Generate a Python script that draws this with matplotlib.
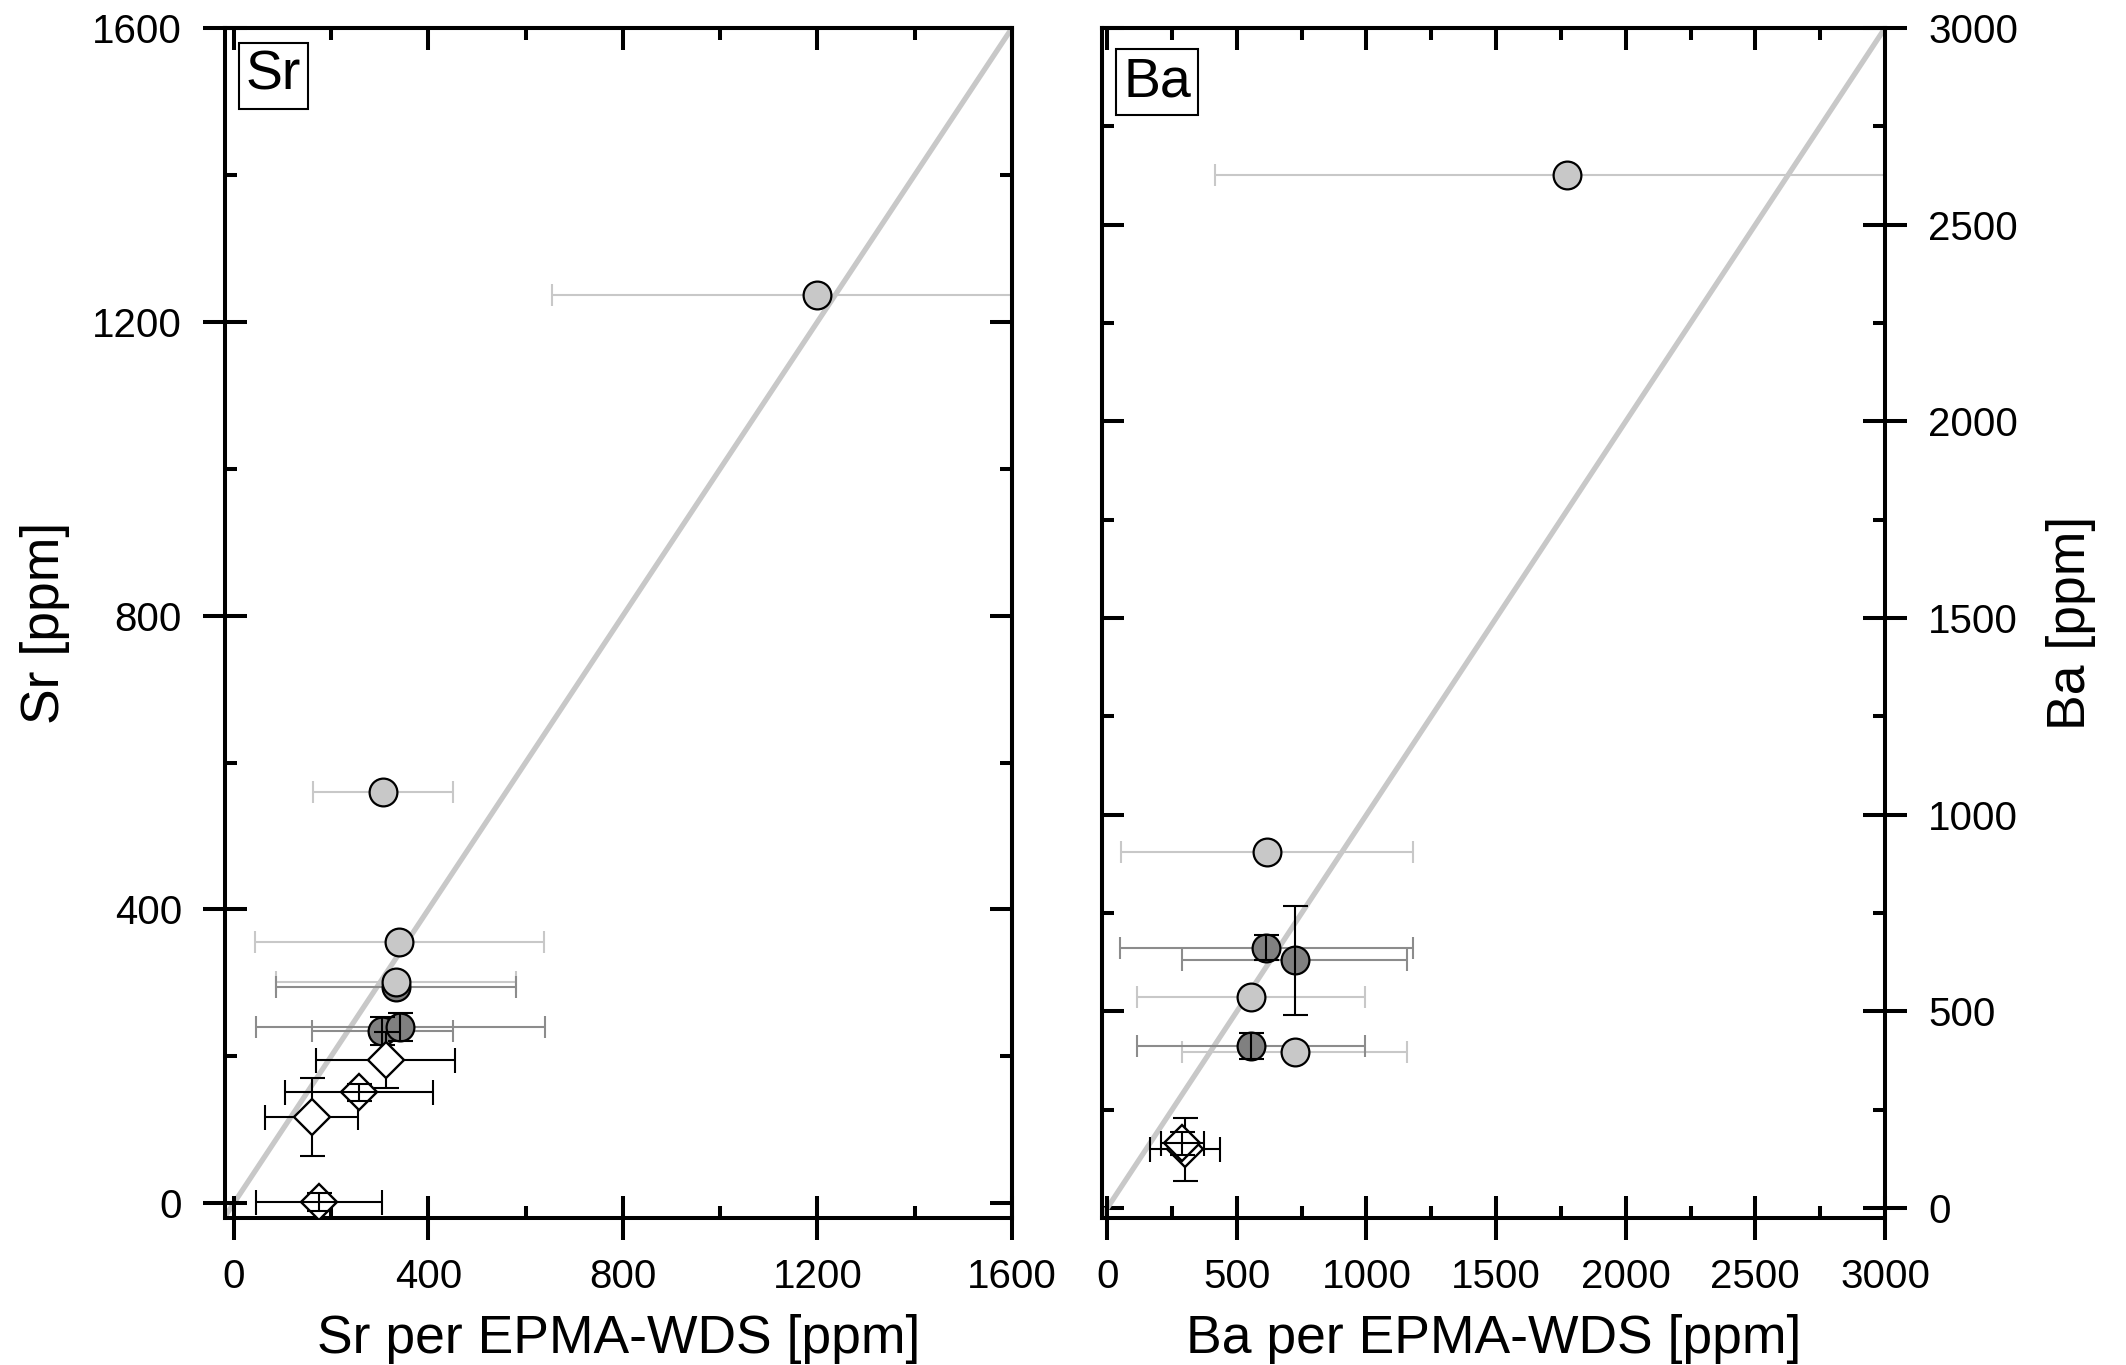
import matplotlib
matplotlib.use('Agg')
import matplotlib.pyplot as plt
from matplotlib.ticker import MultipleLocator

plt.rcParams['font.family'] = ['Liberation Sans', 'DejaVu Sans']

# ---------------- Sr panel data ----------------
sr_light_x = [1200, 306, 340, 334]
sr_light_y = [1237, 560, 356, 301]
sr_light_xerr = [546, 144, 297, 247]

sr_dark_x = [334, 305, 342]
sr_dark_y = [295, 234, 240]
sr_dark_xerr = [247, 145, 297]
sr_dark_yerr = [0, 19, 19]

# diamonds whose error bars lie behind the marker
sr_dia_x = [312, 160]
sr_dia_y = [195, 118]
sr_dia_xerr = [143, 95]
sr_dia_yerr = [38, 53]
# diamonds whose error bars are drawn over the marker
sr_dia2_x = [257, 175]
sr_dia2_y = [151, 2]
sr_dia2_xerr = [152, 130]
sr_dia2_yerr = [12, 12]

# ---------------- Ba panel data ----------------
ba_light_x = [1772, 616, 554, 723]
ba_light_y = [2627, 906, 537, 396]
ba_light_xerr = [1357, 564, 440, 433]

ba_dark_x = [614, 723, 554]
ba_dark_y = [662, 630, 413]
ba_dark_xerr = [564, 433, 440]
ba_dark_yerr = [32, 139, 33]

ba_dia_x = [300]
ba_dia_y = [150]
ba_dia_xerr = [135]
ba_dia_yerr = [80]
ba_dia2_x = [290]
ba_dia2_y = [165]
ba_dia2_xerr = [83]
ba_dia2_yerr = [29]

LIGHT = '#c8c8c8'
DARK = '#808080'
DARKBAR = '#8c8c8c'
SPW = 2.9
TICKFS = 29
LABFS = 38.5

fig = plt.figure(figsize=(21.26, 13.65), dpi=100)
W, H = 2126, 1365
axL = fig.add_axes([225 / W, 147 / H, 787 / W, 1190 / H])
axR = fig.add_axes([1102 / W, 147 / H, 783 / W, 1190 / H])


def draw(ax, lx, ly, lxe, dx, dy, dxe, dye, ax_, ay_, axe_, aye_, bx, by, bxe, bye):
    ax.axline((0, 0), slope=1, color=LIGHT, lw=3.8, zorder=1)
    # light circles
    ax.errorbar(lx, ly, xerr=lxe, fmt='none', ecolor=LIGHT, elinewidth=1.5,
                capsize=8, capthick=1.5, zorder=2)
    # dark circles
    ax.errorbar(dx, dy, xerr=dxe, fmt='none', ecolor=DARKBAR, elinewidth=1.5,
                capsize=8, capthick=1.5, zorder=2)
    ax.plot(dx, dy, 'o', ms=20, mfc=DARK, mec='k', mew=1.6, ls='none', zorder=3)
    ax.errorbar(dx, dy, yerr=dye, fmt='none', ecolor='k', elinewidth=1.5,
                capsize=9, capthick=1.5, zorder=4)
    ax.plot(lx, ly, 'o', ms=20, mfc=LIGHT, mec='k', mew=1.6, ls='none', zorder=5)
    # diamonds
    ax.errorbar(ax_, ay_, xerr=axe_, yerr=aye_, fmt='none', ecolor='k',
                elinewidth=1.5, capsize=9, capthick=1.5, zorder=5)
    ax.plot(ax_, ay_, 'D', ms=18, mfc='white', mec='k', mew=1.7, ls='none', zorder=6)
    ax.plot(bx, by, 'D', ms=18, mfc='white', mec='k', mew=1.7, ls='none', zorder=6)
    ax.errorbar(bx, by, xerr=bxe, yerr=bye, fmt='none', ecolor='k',
                elinewidth=1.5, capsize=9, capthick=1.5, zorder=7)


draw(axL, sr_light_x, sr_light_y, sr_light_xerr, sr_dark_x, sr_dark_y, sr_dark_xerr,
     sr_dark_yerr, sr_dia_x, sr_dia_y, sr_dia_xerr, sr_dia_yerr,
     sr_dia2_x, sr_dia2_y, sr_dia2_xerr, sr_dia2_yerr)
draw(axR, ba_light_x, ba_light_y, ba_light_xerr, ba_dark_x, ba_dark_y, ba_dark_xerr,
     ba_dark_yerr, ba_dia_x, ba_dia_y, ba_dia_xerr, ba_dia_yerr,
     ba_dia2_x, ba_dia2_y, ba_dia2_xerr, ba_dia2_yerr)

axL.set_xlim(-18, 1600)
axL.set_ylim(-20, 1600)
axR.set_xlim(-20, 3000)
axR.set_ylim(-25, 3000)

for ax, step in ((axL, 400), (axR, 500)):
    for a in (ax.xaxis, ax.yaxis):
        a.set_major_locator(MultipleLocator(step))
        a.set_minor_locator(MultipleLocator(step / 2))
    for s in ax.spines.values():
        s.set_linewidth(SPW)
    ax.tick_params(which='major', direction='inout', length=32, width=SPW,
                   labelsize=TICKFS)
    ax.tick_params(which='minor', direction='in', length=8.6, width=SPW)
    ax.tick_params(axis='x', which='both', top=False, pad=13)
    ax.tick_params(axis='y', pad=15)

axL.tick_params(axis='y', which='both', right=False)
axR.yaxis.tick_right()
axR.yaxis.set_label_position('right')
axR.tick_params(axis='y', which='both', left=False)

# inward ticks on the unlabeled sides
for ax, step, yside in ((axL, 400, 'right'), (axR, 500, 'left')):
    sx = ax.secondary_xaxis('top')
    sy = ax.secondary_yaxis(yside)
    for sa, a in ((sx, sx.xaxis), (sy, sy.yaxis)):
        a.set_major_locator(MultipleLocator(step))
        a.set_minor_locator(MultipleLocator(step / 2))
        sa.tick_params(which='major', direction='in', length=16, width=SPW)
        sa.tick_params(which='minor', direction='in', length=8.6, width=SPW)
        for s in sa.spines.values():
            s.set_linewidth(SPW)
    sx.tick_params(labeltop=False)
    sy.tick_params(labelleft=False, labelright=False)

axL.set_xlabel('Sr per EPMA-WDS [ppm]', fontsize=LABFS, labelpad=13)
axL.set_ylabel('Sr [ppm]', fontsize=LABFS, labelpad=16)
axR.set_xlabel('Ba per EPMA-WDS [ppm]', fontsize=LABFS, labelpad=13)
axR.set_ylabel('Ba [ppm]', fontsize=LABFS, labelpad=20)

box = dict(boxstyle='square,pad=0.12', fc='white', ec='k', lw=1.5)
axL.text(0.0616, 0.9597, 'Sr', transform=axL.transAxes, fontsize=40,
         ha='center', va='center', bbox=box, zorder=10)
axR.text(0.0702, 0.9546, 'Ba', transform=axR.transAxes, fontsize=40,
         ha='center', va='center', bbox=box, zorder=10)

fig.savefig('out.png', dpi=100)
